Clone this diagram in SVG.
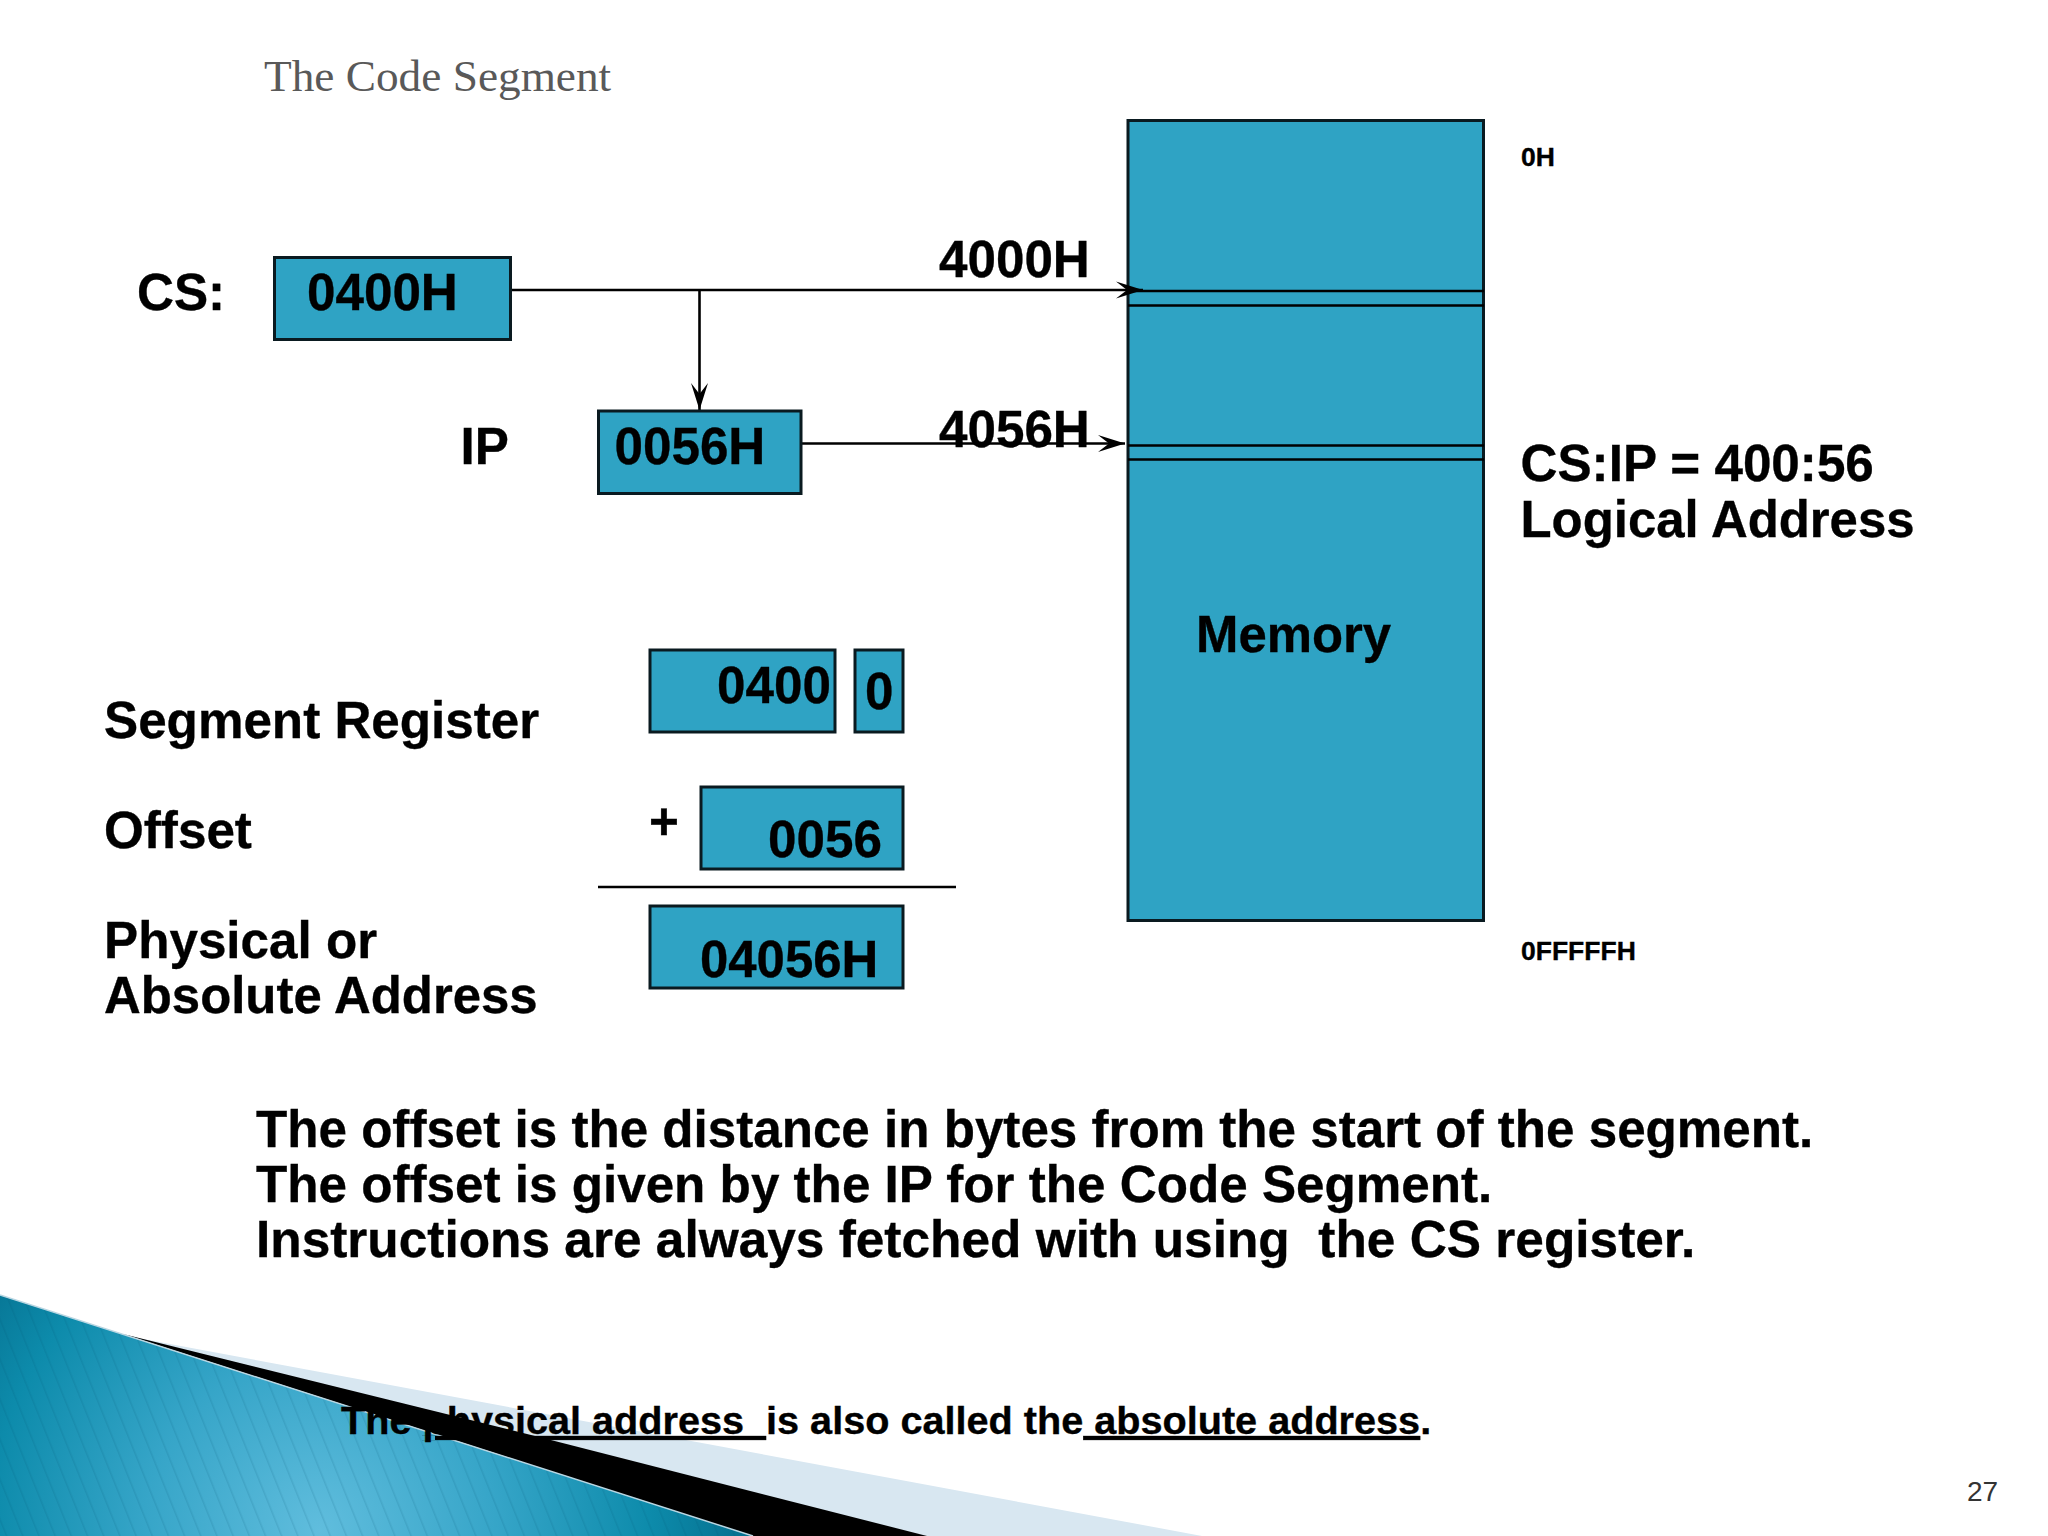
<svg xmlns="http://www.w3.org/2000/svg" width="2048" height="1536" viewBox="0 0 2048 1536">
<style>
text{font-family:"Liberation Sans",Arial,sans-serif;font-weight:700;fill:#000;white-space:pre;stroke:#000;stroke-width:.35}
.box{fill:#2fa3c4;stroke:#0a1a20;stroke-width:3}
.t51{font-size:51.200px}
.t50{font-size:50.900px}
.t27{font-size:26.500px}
.c{fill:none;stroke:#000;stroke-width:2.600}
</style>
<defs>
<marker id="ah" markerUnits="userSpaceOnUse" markerWidth="30" markerHeight="22" refX="27" refY="11" orient="auto">
<path d="M0 2.500L27 11L0 19.500L11 11Z" fill="#000"/>
</marker>
<radialGradient id="wedge" gradientUnits="userSpaceOnUse" cx="320" cy="1530" r="440">
<stop offset="0" stop-color="#60bddd"/><stop offset=".4" stop-color="#36a5c8"/><stop offset=".75" stop-color="#0d8bab"/><stop offset="1" stop-color="#046c8b"/>
</radialGradient>
<pattern id="stripes" patternUnits="userSpaceOnUse" width="15" height="15" patternTransform="rotate(-22)">
<rect x="0" width="1.500" height="15" fill="#00506a" opacity=".13"/>
</pattern>
</defs>
<g id="background">
<path d="M127 1336L1202 1536H925Z" fill="#d8e7f1"/>
<path d="M123 1334L543 1438L927 1536H753Z" fill="#000"/>
<path d="M0 1295L753 1536H0Z" fill="url(#wedge)"/>
<path d="M0 1295L753 1536H0Z" fill="url(#stripes)"/>
<path d="M0 1295L753 1536" fill="none" stroke="#b9d6e2" stroke-width="1.500"/>
</g>
<text id="title" x="264" y="91" style="font-family:'Liberation Serif',serif;font-weight:400;font-size:45.300px;fill:#595959;stroke:none">The Code Segment</text>
<g id="memory">
<rect class="box" x="1128" y="120.500" width="355.500" height="800"/>
<path class="c" d="M1128 291H1484M1128 305.500H1484M1128 445.500H1484M1128 459.500H1484"/>
<text class="t50" x="1196" y="652">Memory</text>
<text class="t27" x="1521" y="165.500">0H</text>
<text class="t27" x="1521" y="960">0FFFFFH</text>
<text class="t51" x="1520.500" y="481">CS:IP = 400:56</text>
<text class="t50" x="1520.500" y="537">Logical Address</text>
</g>
<g id="connectors">
<path class="c" d="M511 290H1143" marker-end="url(#ah)"/>
<path class="c" d="M699.500 290V410" marker-end="url(#ah)"/>
<path class="c" d="M802 443.500H1125" marker-end="url(#ah)"/>
</g>
<text class="t51" x="939" y="277">4000H</text>
<text class="t51" x="939" y="447">4056H</text>
<g id="cs">
<rect class="box" x="274.500" y="257.500" width="236" height="82"/>
<text class="t51" x="137" y="310">CS:</text>
<text class="t51" x="307" y="310">0400H</text>
</g>
<g id="ip">
<rect class="box" x="598.500" y="411" width="202.500" height="82.500"/>
<text class="t51" x="460.500" y="464">IP</text>
<text class="t51" x="614.500" y="464">0056H</text>
</g>
<g id="segment-register">
<text class="t51" x="104" y="738">Segment Register</text>
<rect class="box" x="650" y="650" width="185" height="82"/>
<text class="t51" x="717" y="703">0400</text>
<rect class="box" x="855" y="650" width="48" height="82"/>
<text class="t51" x="865" y="709">0</text>
</g>
<g id="offset">
<text class="t51" x="104" y="848">Offset</text>
<text class="t51" x="649" y="839">+</text>
<rect class="box" x="701" y="787" width="202" height="82"/>
<text class="t51" x="768" y="857">0056</text>
</g>
<path class="c" d="M598 887H956"/>
<g id="physical">
<text class="t51" x="104" y="958">Physical or</text>
<text class="t50" x="104" y="1013">Absolute Address</text>
<rect class="box" x="650" y="906" width="253" height="82"/>
<text class="t50" x="700" y="977">04056H</text>
</g>
<g id="notes">
<text class="t51" x="256" y="1147" style="font-size:51.150px">The offset is the distance in bytes from the start of the segment.</text>
<text class="t51" x="256" y="1202">The offset is given by the IP for the Code Segment.</text>
<text class="t51" x="256" y="1257" style="font-size:51.400px">Instructions are always fetched with using  the CS register.</text>
<text x="341" y="1434" style="font-size:39.630px">The <tspan text-decoration="underline">physical address  </tspan>is also called the<tspan text-decoration="underline"> absolute address</tspan>.</text>
</g>
<text id="page" x="1967" y="1501" style="font-weight:400;font-size:28px;fill:#333;stroke:none">27</text>
</svg>
